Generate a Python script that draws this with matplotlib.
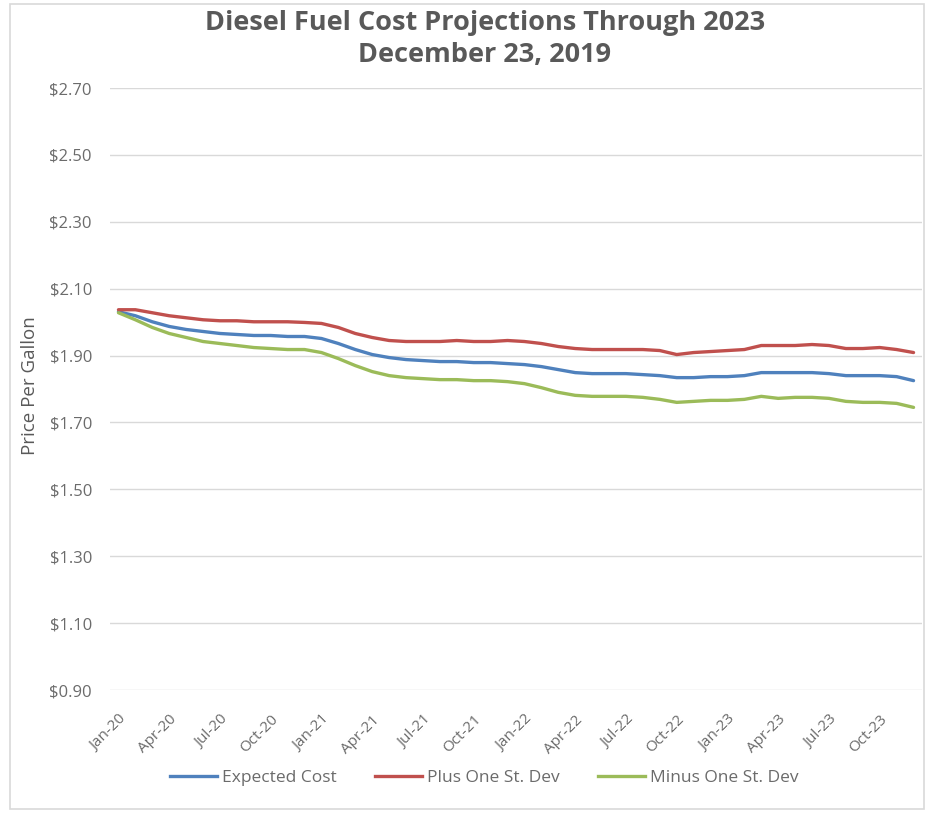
import matplotlib
matplotlib.use("Agg")
import matplotlib.pyplot as plt
from matplotlib.patches import Rectangle
from matplotlib.lines import Line2D

months = ["Jan-20","Feb-20","Mar-20","Apr-20","May-20","Jun-20","Jul-20","Aug-20","Sep-20","Oct-20","Nov-20","Dec-20",
          "Jan-21","Feb-21","Mar-21","Apr-21","May-21","Jun-21","Jul-21","Aug-21","Sep-21","Oct-21","Nov-21","Dec-21",
          "Jan-22","Feb-22","Mar-22","Apr-22","May-22","Jun-22","Jul-22","Aug-22","Sep-22","Oct-22","Nov-22","Dec-22",
          "Jan-23","Feb-23","Mar-23","Apr-23","May-23","Jun-23","Jul-23","Aug-23","Sep-23","Oct-23","Nov-23","Dec-23"]

expected_cost = [2.031, 2.019, 2.001, 1.987, 1.978, 1.972, 1.966, 1.963, 1.960, 1.960, 1.957, 1.957,
                 1.951, 1.936, 1.918, 1.903, 1.894, 1.888, 1.885, 1.882, 1.882, 1.879, 1.879, 1.876,
                 1.873, 1.867, 1.858, 1.849, 1.846, 1.846, 1.846, 1.843, 1.840, 1.834, 1.834, 1.837,
                 1.837, 1.840, 1.849, 1.849, 1.849, 1.849, 1.846, 1.840, 1.840, 1.840, 1.837, 1.825]

plus_one_sd = [2.037, 2.037, 2.028, 2.019, 2.013, 2.007, 2.004, 2.004, 2.001, 2.001, 2.001, 1.999,
               1.996, 1.984, 1.966, 1.954, 1.945, 1.942, 1.942, 1.942, 1.945, 1.942, 1.942, 1.945,
               1.942, 1.936, 1.927, 1.921, 1.918, 1.918, 1.918, 1.918, 1.915, 1.903, 1.909, 1.912,
               1.915, 1.918, 1.930, 1.930, 1.930, 1.933, 1.930, 1.921, 1.921, 1.924, 1.918, 1.909]

minus_one_sd = [2.028, 2.007, 1.984, 1.966, 1.954, 1.942, 1.936, 1.930, 1.924, 1.921, 1.918, 1.918,
                1.909, 1.891, 1.870, 1.852, 1.840, 1.834, 1.831, 1.828, 1.828, 1.825, 1.825, 1.822,
                1.816, 1.804, 1.790, 1.781, 1.778, 1.778, 1.778, 1.775, 1.769, 1.760, 1.763, 1.766,
                1.766, 1.769, 1.778, 1.772, 1.775, 1.775, 1.772, 1.763, 1.760, 1.760, 1.757, 1.745]

yticks = [0.90, 1.10, 1.30, 1.50, 1.70, 1.90, 2.10, 2.30, 2.50, 2.70]
ytick_labels = ["$0.90", "$1.10", "$1.30", "$1.50", "$1.70", "$1.90", "$2.10", "$2.30", "$2.50", "$2.70"]
xtick_labels = months[::3]

title = "Diesel Fuel Cost Projections Through 2023\nDecember 23, 2019"
series_names = ["Expected Cost", "Plus One St. Dev", "Minus One St. Dev"]
colors = ["#4F81BD", "#C0504D", "#9BBB59"]

plt.rcParams['font.family'] = ['Open Sans', 'DejaVu Sans']
W, H = 927, 813
fig = plt.figure(figsize=(W / 100, H / 100), dpi=100)

# chart border
fig.patches.append(Rectangle((10 / W, 4 / H), 914 / W, 805 / H, transform=fig.transFigure,
                             fill=False, edgecolor="#D9D9D9", linewidth=1.2))

ax = fig.add_axes([110 / W, (H - 690) / H, 812 / W, 602 / H])
x = list(range(len(months)))
for vals, c, n in zip([expected_cost, plus_one_sd, minus_one_sd], colors, series_names):
    ax.plot(x, vals, color=c, linewidth=2.4, label=n, solid_capstyle='round')

ax.set_ylim(0.90, 2.70)
ax.set_xlim(-0.5, len(months) - 0.5)
ax.set_yticks(yticks)
ax.set_yticklabels(ytick_labels)
ax.set_xticks(x[::3])
ax.set_xticklabels(xtick_labels, rotation=45, ha='right', rotation_mode='anchor')
ax.grid(axis='y', color="#D9D9D9", linewidth=1)
ax.set_axisbelow(True)
for s in ax.spines.values():
    s.set_visible(False)
ax.tick_params(axis='both', length=0, colors="#6b6b6b", labelsize=12)
ax.tick_params(axis='x', labelsize=11)
ax.tick_params(axis='y', pad=13)
ax.tick_params(axis='x', pad=16)
ax.set_ylabel("Price Per Gallon", color="#595959", fontsize=13.5)
ax.yaxis.set_label_coords(-0.088, 0.505)

fig.text(485 / W, 1 - 10 / H, title, ha='center', va='top',
         fontsize=19.5, fontweight='bold', color="#595959", linespacing=1.3)

handles = [Line2D([0], [0], color=c, linewidth=2.4) for c in colors]
fig.legend(handles, series_names, loc='center', bbox_to_anchor=(484 / W, 1 - 778 / H),
           ncol=3, frameon=False, fontsize=12.5, labelcolor="#6b6b6b",
           handlelength=2.7, handletextpad=0.3, columnspacing=2.2)

fig.savefig("out.png", dpi=100)
